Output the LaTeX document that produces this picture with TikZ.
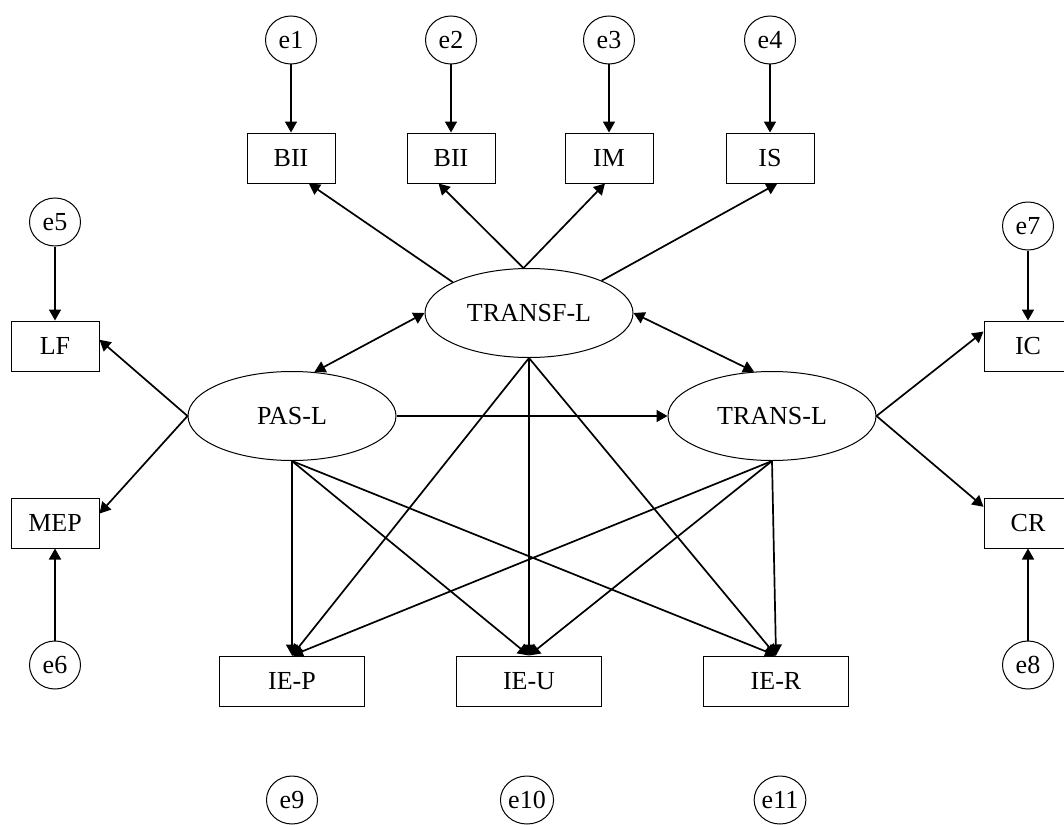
\documentclass[tikz,border=0pt]{standalone}
\usepackage{fontspec}
\setmainfont{Liberation Serif}
\usetikzlibrary{arrows.meta,shapes.geometric}

\tikzset{
  obs/.style={draw, line width=0.5pt, minimum width=44pt, minimum height=25pt, inner sep=0pt},
  ieobs/.style={obs, minimum width=72.5pt},
  lat/.style={draw, ellipse, line width=0.5pt, minimum width=104pt, minimum height=44.5pt, inner sep=0pt},
  err/.style={draw, ellipse, line width=0.5pt, minimum width=25.5pt, minimum height=24pt, inner sep=0pt},
  flecha/.style={line width=0.85pt, -{Triangle[length=5.5pt,width=6pt]}},
  dflecha/.style={line width=0.85pt, {Triangle[length=5.5pt,width=6pt]}-{Triangle[length=5.5pt,width=6pt]}},
}

\begin{document}
\begin{tikzpicture}[x=0.5pt, y=-0.5pt, font=\fontsize{13}{15}\selectfont]
	\useasboundingbox (0,0) rectangle (1064,824);
	
	% Variables latentes
	\node[lat] (transf) at (529,313) {TRANSF-L};
	\node[lat] (pas) at (292,416) {PAS-L};
	\node[lat] (trans) at (772,416) {TRANS-L};
	
	% Indicadores
	\node[obs] (bii1) at (291,158) {BII};
	\node[obs] (bii2) at (451,158) {BII};
	\node[obs] (im) at (609,158) {IM};
	\node[obs] (is) at (770,158) {IS};
	\node[obs] (lf) at (55,346) {LF};
	\node[obs] (mep) at (55,523) {MEP};
	\node[obs] (ic) at (1028,346) {IC};
	\node[obs] (cr) at (1028,523) {CR};
	\node[ieobs] (iep) at (292,681) {IE-P};
	\node[ieobs] (ieu) at (529,681) {IE-U};
	\node[ieobs] (ier) at (776,681) {IE-R};
	
	% Errores de medida
	\foreach \x/\e/\b in {291/e1/bii1, 451/e2/bii2, 609/e3/im, 770/e4/is} {
		\node[err] (\e) at (\x,40) {\e};
		\draw[flecha] (\e) -- (\b);
	}
	\node[err] (e5) at (55,222) {e5};
	\node[err] (e6) at (55,665) {e6};
	\node[err] (e7) at (1028,226) {e7};
	\node[err] (e8) at (1028,665) {e8};
	\draw[flecha] (e5) -- (lf);
	\draw[flecha] (e6) -- (mep);
	\draw[flecha] (e7) -- (ic);
	\draw[flecha] (e8) -- (cr);
	\node[err] (e9) at (292,800) {e9};
	\node[err] (e10) at (527,800) {e10};
	\node[err] (e11) at (780,800) {e11};
	
	% Cargas
	\draw[flecha] (transf.158) -- (bii1.-55);
	\draw[flecha] (transf.97) -- (bii2.-116);
	\draw[flecha] (transf.97) -- (im.-99);
	\draw[flecha] (transf.24) -- (is.-74);
	\draw[flecha] (pas.west) -- (lf.8);
	\draw[flecha] (pas.west) -- (mep.12);
	\draw[flecha] (trans.east) -- (ic.162);
	\draw[flecha] (trans.east) -- (cr.160);
	
	% Relaciones estructurales
	\draw[dflecha] (pas.63) -- (transf.west);
	\draw[dflecha] (transf.east) -- (trans.112);
	\draw[flecha] (pas.east) -- (trans.west);
	\foreach \lv in {pas,transf,trans} {
		\foreach \ie in {iep,ieu,ier}
			\draw[flecha] (\lv.south) -- (\ie.north);
	}
\end{tikzpicture}
\end{document}
